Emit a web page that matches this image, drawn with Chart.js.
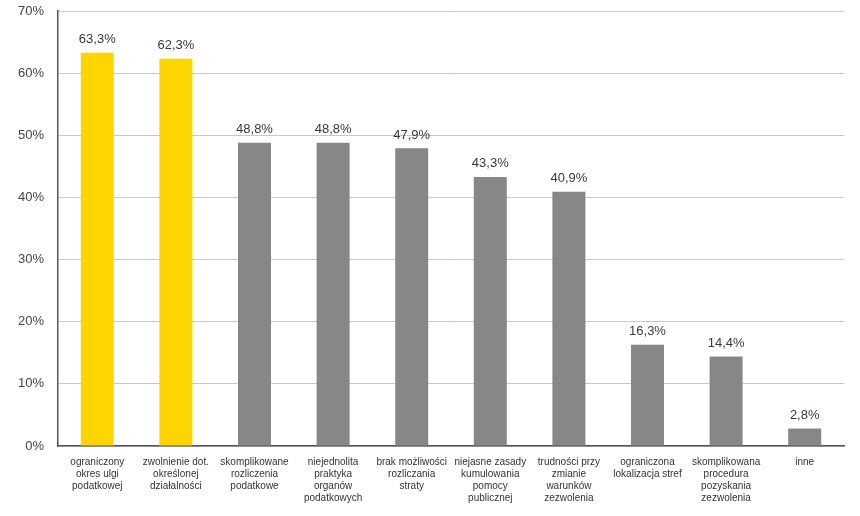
<!DOCTYPE html>
<html>
<head>
<meta charset="utf-8">
<script src="https://cdn.jsdelivr.net/npm/chart.js@4/dist/chart.umd.min.js"></script>
<style>
  html, body { margin: 0; padding: 0; background: #fff; }
  #wrap { width: 860px; height: 516px; }
</style>
</head>
<body>
<div id="wrap"><canvas id="chart" width="860" height="516"></canvas></div>
<script>
// categories (multi-line labels)
const categories = [
  ['ograniczony', 'okres ulgi', 'podatkowej'],
  ['zwolnienie dot.', 'określonej', 'działalności'],
  ['skomplikowane', 'rozliczenia', 'podatkowe'],
  ['niejednolita', 'praktyka', 'organów', 'podatkowych'],
  ['brak możliwości', 'rozliczania', 'straty'],
  ['niejasne zasady', 'kumulowania', 'pomocy', 'publicznej'],
  ['trudności przy', 'zmianie', 'warunków', 'zezwolenia'],
  ['ograniczona', 'lokalizacja stref'],
  ['skomplikowana', 'procedura', 'pozyskania', 'zezwolenia'],
  ['inne']
];
const values = [63.3, 62.3, 48.8, 48.8, 47.9, 43.3, 40.9, 16.3, 14.4, 2.8];
const highlighted = [true, true, false, false, false, false, false, false, false, false];
const yTicks = [0, 10, 20, 30, 40, 50, 60, 70];

const YELLOW = '#ffd500';
const GRAY = '#878787';

const valueLabels = {
  id: 'valueLabels',
  afterDatasetsDraw(chart) {
    const ctx = chart.ctx;
    const meta = chart.getDatasetMeta(0);
    ctx.save();
    ctx.font = '13px "Liberation Sans", Arial, sans-serif';
    ctx.fillStyle = '#333a45';
    ctx.textAlign = 'center';
    ctx.textBaseline = 'middle';
    meta.data.forEach((bar, i) => {
      const txt = values[i].toFixed(1).replace('.', ',') + '%';
      ctx.fillText(txt, bar.x, bar.y - 13);
    });
    ctx.restore();
  }
};

new Chart(document.getElementById('chart'), {
  type: 'bar',
  data: {
    labels: categories,
    datasets: [{
      data: values,
      backgroundColor: highlighted.map(h => h ? YELLOW : GRAY),
      barPercentage: 0.42,
      categoryPercentage: 1
    }]
  },
  options: {
    responsive: false,
    animation: false,
    layout: { padding: { top: 11, right: 16, left: 0, bottom: 0 } },
    plugins: { legend: { display: false }, tooltip: { enabled: false } },
    scales: {
      x: {
        grid: { drawOnChartArea: false, drawTicks: false },
        border: { color: '#555555', width: 1.5 },
        ticks: {
          autoSkip: false,
          maxRotation: 0,
          padding: 10,
          color: '#333333',
          font: { family: '"Liberation Sans", Arial, sans-serif', size: 10, lineHeight: 1.2 }
        },
        afterFit(scale) {
          scale.height = 70;
          scale.paddingLeft = 0;
          scale.paddingRight = 0;
        }
      },
      y: {
        min: 0,
        max: 70,
        afterBuildTicks(scale) { scale.ticks = yTicks.map(v => ({ value: v })); },
        grid: { color: '#c8c8c8', drawTicks: false },
        border: { color: '#555555', width: 1.5 },
        ticks: {
          padding: 14,
          color: '#444444',
          font: { family: '"Liberation Sans", Arial, sans-serif', size: 13 },
          callback: v => v + '%'
        },
        afterFit(scale) {
          scale.width = 58;
          scale.paddingTop = 0;
          scale.paddingBottom = 0;
        }
      }
    }
  },
  plugins: [valueLabels]
});
</script>
</body>
</html>
